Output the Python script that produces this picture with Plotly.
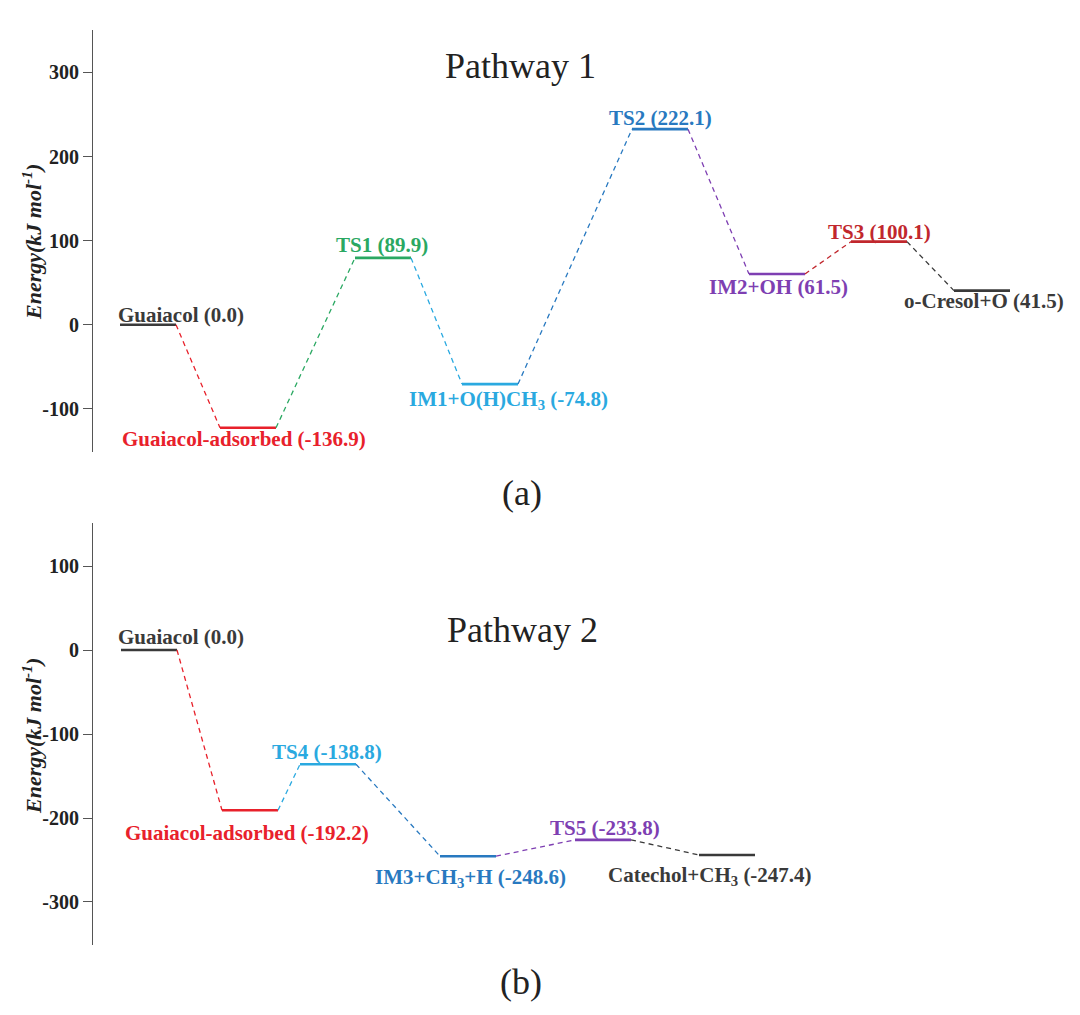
import plotly.graph_objects as go

# ---------------- data ----------------
p1_names = ["Guaiacol", "Guaiacol-adsorbed", "TS1", "IM1+O(H)CH<sub>3</sub>", "TS2",
            "IM2+OH", "TS3", "o-Cresol+O"]
p1_label_values = ["0.0", "-136.9", "89.9", "-74.8", "222.1", "61.5", "100.1", "41.5"]
p1_levels = [0.0, -122.6, 79.5, -70.6, 232.6, 60.4, 98.8, 40.5]   # plotted level heights

p2_names = ["Guaiacol", "Guaiacol-adsorbed", "TS4", "IM3+CH<sub>3</sub>+H", "TS5",
            "Catechol+CH<sub>3</sub>"]
p2_label_values = ["0.0", "-192.2", "-138.8", "-248.6", "-233.8", "-247.4"]
p2_levels = [0.0, -190.8, -136.0, -245.5, -226.0, -244.0]

y1_ticks = [-100, 0, 100, 200, 300]
y1_ticktext = ["-100", "0", "100", "200", "300"]
y2_ticks = [-300, -200, -100, 0, 100]
y2_ticktext = ["-300", "-200", "-100", "0", "100"]

# ---------------- layout / style ----------------
W, H = 1080, 1015
OFF = 8                      # page body margin
FW, FH = W - 2 * OFF, H - 2 * OFF
BLACK = "#3a3a3a"
RED = "#e8212b"
GREEN = "#2aa862"
CYAN = "#2aa9e0"
BLUE = "#2879c0"
PURPLE = "#7e3fb2"
DRED = "#c1272d"

p1_colors = [BLACK, RED, GREEN, CYAN, BLUE, PURPLE, DRED, BLACK]
p2_colors = [BLACK, RED, CYAN, BLUE, PURPLE, BLACK]

# horizontal centres of levels (window-pixel-mapped x axis) and label placement
p1_x = [148, 248, 383, 490, 660, 777, 879, 982]
p1_lab_x = [181, 244, 382, 508, 660, 778, 879, 984]
p1_lab_dy = [10, -11, 13, -16, 11, -13, 10, -10]
p2_x = [149, 250, 328, 468, 603, 727]
p2_lab_x = [181, 247, 327, 470, 605, 710]
p2_lab_dy = [13, -23, 12, -22, 12, -21]
HALF = 28

SERIF = "Liberation Serif"


def paper_y(px):
    return 1 - (px - OFF) / FH


def paper_x(px):
    return (px - OFF) / FW


fig = go.Figure()


def add_pathway(names, vals, levels, colors, xs, lab_x, lab_dy, xa, ya):
    for i, (lv, c, x) in enumerate(zip(levels, colors, xs)):
        fig.add_trace(go.Scatter(x=[x - HALF, x + HALF], y=[lv, lv], mode="lines",
                                 line=dict(color=c, width=2.6), xaxis=xa, yaxis=ya,
                                 showlegend=False, hoverinfo="skip"))
        if i > 0:
            fig.add_trace(go.Scatter(x=[xs[i - 1] + HALF, x - HALF], y=[levels[i - 1], lv],
                                     mode="lines",
                                     line=dict(color=c, width=1.3, dash="5px,4px"),
                                     xaxis=xa, yaxis=ya, showlegend=False, hoverinfo="skip"))
        fig.add_annotation(x=lab_x[i], y=lv, xref=xa, yref=ya,
                           text=f"{names[i]} ({vals[i]})", showarrow=False,
                           yshift=lab_dy[i], xanchor="center", yanchor="middle",
                           font=dict(family=SERIF, size=21, color=c, weight="bold"))


add_pathway(p1_names, p1_label_values, p1_levels, p1_colors, p1_x, p1_lab_x, p1_lab_dy, "x", "y")
add_pathway(p2_names, p2_label_values, p2_levels, p2_colors, p2_x, p2_lab_x, p2_lab_dy, "x2", "y2")

yaxis_common = dict(showline=True, linecolor="#555", linewidth=1.2, ticks="outside",
                    ticklen=9, tickcolor="#555", tickwidth=1.2, showgrid=False,
                    zeroline=False, anchor="free", position=paper_x(92),
                    tickfont=dict(family=SERIF, size=20, color="#222", weight="bold"))

fig.update_layout(
    width=FW, height=FH,
    margin=dict(l=0, r=0, t=0, b=0),
    paper_bgcolor="white", plot_bgcolor="rgba(0,0,0,0)",
    xaxis=dict(range=[OFF, W - OFF], visible=False, domain=[0, 1], anchor="y"),
    xaxis2=dict(range=[OFF, W - OFF], visible=False, domain=[0, 1], anchor="y2"),
    yaxis=dict(range=[-151, 350.5], domain=[paper_y(451.7), paper_y(30)],
               tickvals=y1_ticks, ticktext=y1_ticktext, **yaxis_common),
    yaxis2=dict(range=[-351.2, 151.2], domain=[paper_y(945), paper_y(523)],
                tickvals=y2_ticks, ticktext=y2_ticktext, **yaxis_common),
)

# titles and panel labels
for txt, x, y in [("Pathway 1", 520, 66), ("Pathway 2", 522, 630), ("(a)", 522, 493), ("(b)", 521, 982)]:
    fig.add_annotation(x=paper_x(x), y=paper_y(y), xref="paper", yref="paper", text=txt,
                       showarrow=False, xanchor="center", yanchor="middle",
                       font=dict(family=SERIF, size=36, color="#222"))

for y in [242, 736]:
    fig.add_annotation(x=paper_x(32), y=paper_y(y), xref="paper", yref="paper",
                       text="<b><i>Energy(kJ mol<sup>-1</sup>)</i></b>", textangle=-90,
                       showarrow=False, xanchor="center", yanchor="middle",
                       font=dict(family=SERIF, size=22, color="#222"))

fig.write_html("out.html")
